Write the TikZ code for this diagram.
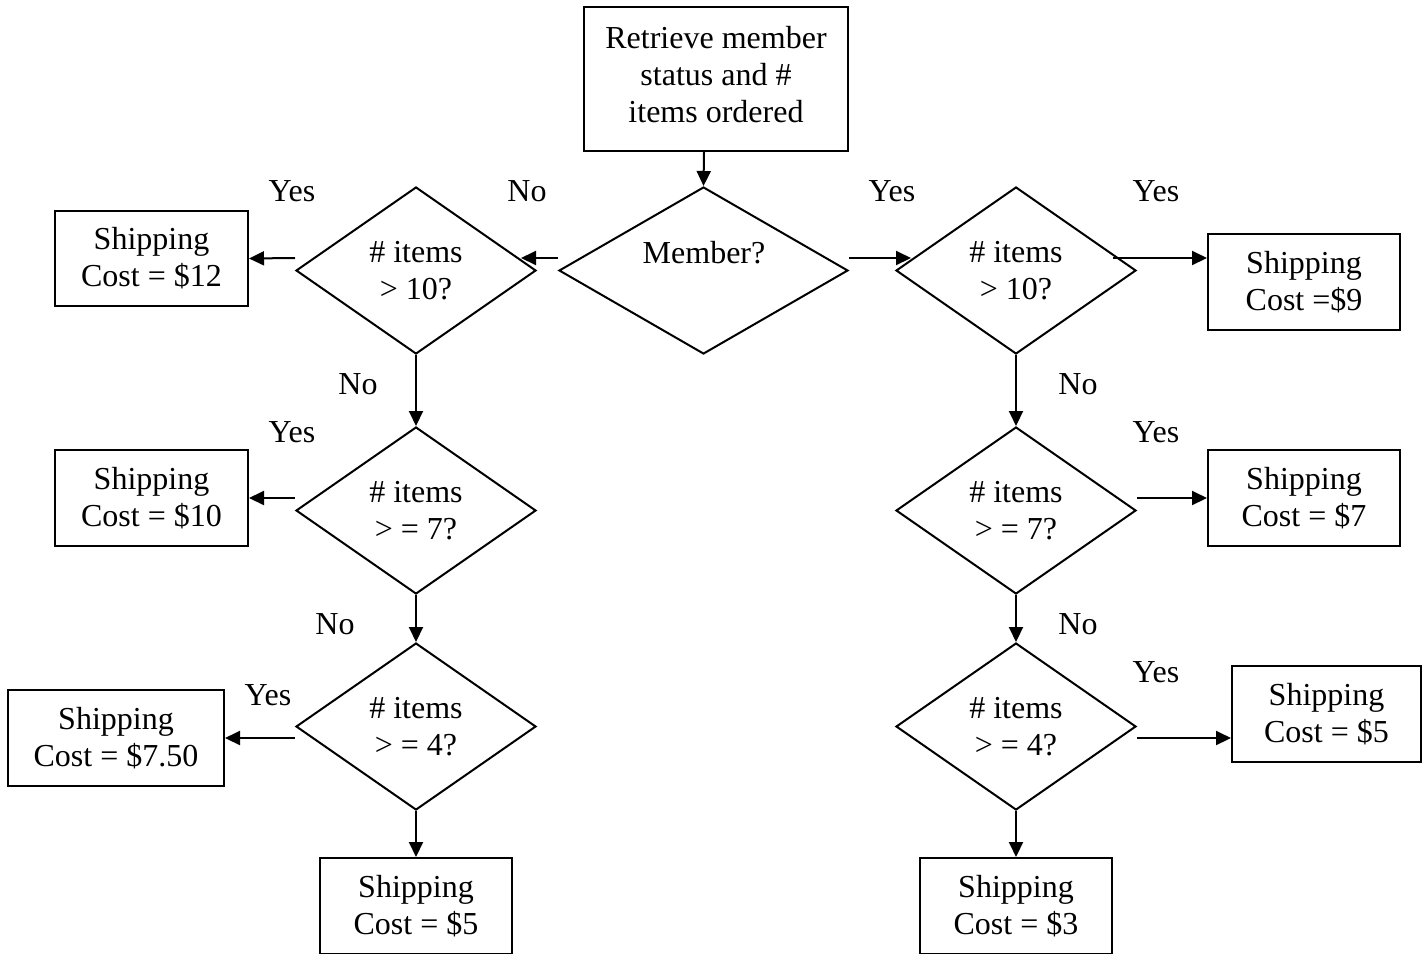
\documentclass[tikz,border=0pt]{standalone}
\usepackage{fontspec}
\setmainfont{Liberation Serif}
\usetikzlibrary{shapes.geometric,arrows.meta}
\begin{document}
\begin{tikzpicture}[x=0.5pt,y=-0.5pt,
  every node/.style={font=\fontsize{16}{18.5}\selectfont},
  box/.style={draw,line width=1pt,inner sep=0pt,align=center},
  dia/.style={draw,diamond,line width=1pt,inner sep=0pt,minimum width=120pt,minimum height=83.5pt,aspect=1.44,align=center},
  arr/.style={line width=1pt,-{Triangle[length=7.5pt,width=7pt]}},
  lbl/.style={inner sep=0pt}]
\useasboundingbox (0,0) rectangle (1422,953);
\clip (0,0) rectangle (1422,953);
% process box
\node[box,minimum width=132pt,minimum height=72pt] (top) at (716,79) {Retrieve member\\status and \#\\items ordered\\[-13.5pt]};
% decisions
\node[dia,minimum width=144.5pt] (mem) at (703.5,270.5) {};
\node[lbl] (memt) at (704,253) {Member?};
\node[dia] (d1) at (416,270.5) {\# items\\> 10?};
\node[dia] (d2) at (416,510.5) {\# items\\> = 7?};
\node[dia] (d3) at (416,726.5) {\# items\\> = 4?};
\node[dia] (r1) at (1016,270.5) {\# items\\> 10?};
\node[dia] (r2) at (1016,510.5) {\# items\\> = 7?};
\node[dia] (r3) at (1016,726.5) {\# items\\> = 4?};
% results
\node[box,minimum width=96.5pt,minimum height=47.5pt] (b12) at (151.5,258.5) {Shipping\\Cost = \$12};
\node[box,minimum width=96.5pt,minimum height=48pt] (b10) at (151.5,498) {Shipping\\Cost = \$10};
\node[box,minimum width=108pt,minimum height=48pt] (b750) at (116,738) {Shipping\\Cost = \$7.50};
\node[box,minimum width=96pt,minimum height=48pt] (b5) at (416,906) {Shipping\\Cost = \$5};
\node[box,minimum width=96pt,minimum height=48pt] (b9) at (1304,282) {Shipping\\Cost =\$9};
\node[box,minimum width=96pt,minimum height=48pt] (b7) at (1304,498) {Shipping\\Cost = \$7};
\node[box,minimum width=94.5pt,minimum height=48pt] (b5r) at (1326.5,714) {Shipping\\Cost = \$5};
\node[box,minimum width=96pt,minimum height=48pt] (b3) at (1016,906) {Shipping\\Cost = \$3};
% connectors
\draw[arr] ([xshift=-6pt]top.south) -- (mem.north);
\draw[arr] ([yshift=6.25pt]mem.west) -- ([xshift=-8pt,yshift=6.25pt]d1.east);
\draw[arr] ([yshift=6.25pt]d1.west) -- (b12.east);
\draw[arr] (d1.south) -- (d2.north);
\draw[arr] ([yshift=6.25pt]d2.west) -- (b10.east);
\draw[arr] (d2.south) -- (d3.north);
\draw[arr] ([yshift=-5.75pt]d3.west) -- (b750.east);
\draw[arr] (d3.south) -- (b5.north);
\draw[arr] ([yshift=6.25pt]mem.east) -- ([xshift=8pt,yshift=6.25pt]r1.west);
\draw[arr] ([xshift=-12pt,yshift=6.25pt]r1.east) -- ([yshift=6.25pt]r1.east -| b9.west);
\draw[arr] (r1.south) -- (r2.north);
\draw[arr] ([yshift=6.25pt]r2.east) -- (b7.west);
\draw[arr] (r2.south) -- (r3.north);
\draw[arr] ([yshift=-5.75pt]r3.east) -- ([yshift=-5.75pt]r3.east -| b5r.west);
\draw[arr] (r3.south) -- (b3.north);
% labels
\node[lbl] (y1) at (292,191) {Yes};
\node[lbl] (n1) at (527,191) {No};
\node[lbl] (y2) at (892,191) {Yes};
\node[lbl] (y3) at (1156,191) {Yes};
\node[lbl] (n2) at (358,384) {No};
\node[lbl] (n3) at (1078,384) {No};
\node[lbl] (y4) at (292,432) {Yes};
\node[lbl] (y5) at (1156,432) {Yes};
\node[lbl] (n4) at (335,624) {No};
\node[lbl] (n5) at (1078,624) {No};
\node[lbl] (y6) at (268,695) {Yes};
\node[lbl] (y7) at (1156,672) {Yes};
\end{tikzpicture}
\end{document}
